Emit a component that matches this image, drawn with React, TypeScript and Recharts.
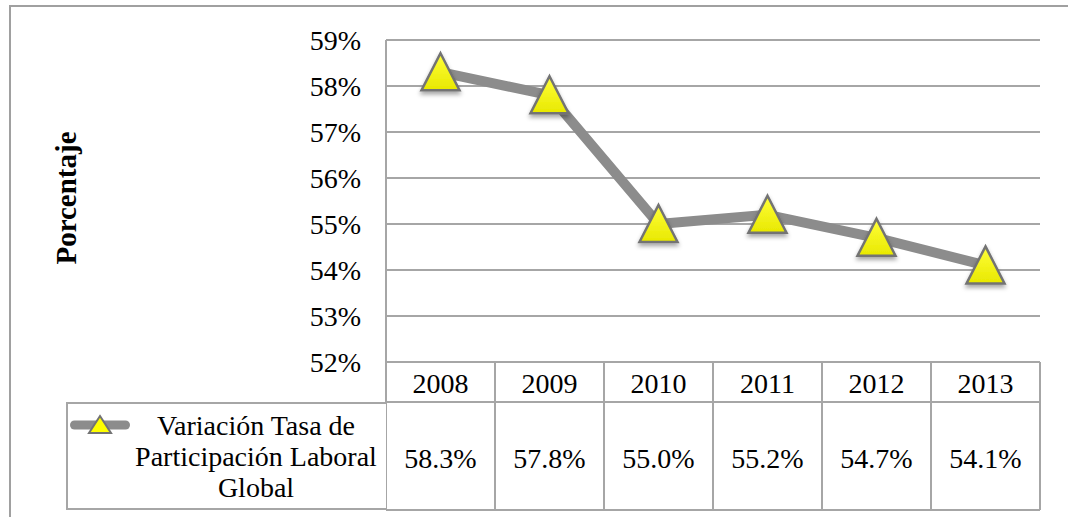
import React from "react";
import { LineChart, Line, XAxis, YAxis, CartesianGrid, Legend } from "recharts";

const years = ["2008", "2009", "2010", "2011", "2012", "2013"];
const rates = [58.3, 57.8, 55.0, 55.2, 54.7, 54.1];
const yTicks = [52, 53, 54, 55, 56, 57, 58, 59];
const seriesName = "Variación Tasa de Participación Laboral Global";
const yTitle = "Porcentaje";

const data = years.map((year, i) => ({ year, rate: rates[i] }));

const FONT = '"Liberation Serif", "Times New Roman", serif';
const GRID = "#a6a6a6";
const LINE = "#8c8c8c";
const W = 1068;
const H = 517;
const PLOT_LEFT = 386;
const PLOT_RIGHT = 1040;
const PLOT_TOP = 40;
const PLOT_BOTTOM = 362;
const Y_W = 60;
const COL = (PLOT_RIGHT - PLOT_LEFT) / years.length;
const HEADER_H = 40;
const TABLE_H = 148;

function TriangleDot(props: any) {
  const { cx, cy, index } = props;
  if (cx == null || cy == null) return null;
  const gid = `triFill${index}`;
  const fid = `triShadow${index}`;
  return (
    <g>
      <defs>
        <linearGradient id={gid} x1="0" y1="0" x2="0" y2="1">
          <stop offset="0%" stopColor="#ffff3a" />
          <stop offset="100%" stopColor="#e8e800" />
        </linearGradient>
        <filter id={fid} x="-50%" y="-50%" width="200%" height="200%">
          <feDropShadow dx="0" dy="3" stdDeviation="2" floodColor="#000" floodOpacity="0.35" />
        </filter>
      </defs>
      <path
        d={`M${cx},${cy - 19} L${cx + 19},${cy + 18} L${cx - 19},${cy + 18} Z`}
        fill={`url(#${gid})`}
        stroke="#737373"
        strokeWidth={2.5}
        filter={`url(#${fid})`}
      />
    </g>
  );
}

function TableCell(props: any) {
  const { x, y, payload, index } = props;
  const half = COL / 2;
  const v = rates[index];
  return (
    <g>
      {index === 0 && (
        <line x1={x - half} x2={x - half} y1={y} y2={y + TABLE_H} stroke={GRID} strokeWidth={2} />
      )}
      <line x1={x + half} x2={x + half} y1={y} y2={y + TABLE_H} stroke={GRID} strokeWidth={2} />
      <line x1={x - half} x2={x + half} y1={y + HEADER_H} y2={y + HEADER_H} stroke={GRID} strokeWidth={2} />
      <line x1={x - half} x2={x + half} y1={y + TABLE_H} y2={y + TABLE_H} stroke={GRID} strokeWidth={2} />
      <text x={x} y={y + 21} textAnchor="middle" dominantBaseline="central" fontFamily={FONT} fontSize={28} fill="#000">
        {payload.value}
      </text>
      <text x={x} y={y + 96} textAnchor="middle" dominantBaseline="central" fontFamily={FONT} fontSize={28} fill="#000">
        {v.toFixed(1)}%
      </text>
    </g>
  );
}

function LegendBox() {
  return (
    <div
      style={{
        position: "relative",
        width: 320,
        height: 108,
        boxSizing: "border-box",
        borderTop: `2px solid ${GRID}`,
        borderLeft: `2px solid ${GRID}`,
        borderBottom: `2px solid ${GRID}`,
        background: "#fff",
      }}
    >
      <svg width={70} height={30} style={{ position: "absolute", left: 0, top: 7 }}>
        <line x1={6.5} x2={57.5} y1={14} y2={14} stroke={LINE} strokeWidth={9} strokeLinecap="round" />
        <path d="M32,5 L43,22 L21,22 Z" fill="#ffff00" stroke="#737373" strokeWidth={2} />
      </svg>
      <div
        style={{
          position: "absolute",
          left: 62,
          top: 6,
          width: 252,
          textAlign: "center",
          fontFamily: FONT,
          fontSize: 28,
          lineHeight: "31px",
          color: "#000",
        }}
      >
        {seriesName}
      </div>
    </div>
  );
}

function YTitle(props: any) {
  const vb = props.viewBox || {};
  const cy = (vb.y ?? PLOT_TOP) + (vb.height ?? PLOT_BOTTOM - PLOT_TOP) / 2 - 3;
  const cx = 66;
  return (
    <text
      x={cx}
      y={cy}
      transform={`rotate(-90 ${cx} ${cy})`}
      textAnchor="middle"
      dominantBaseline="central"
      fontFamily={FONT}
      fontWeight="bold"
      fontSize={29}
      fill="#000"
    >
      {yTitle}
    </text>
  );
}

export default function App() {
  return (
    <div
      style={{
        position: "absolute",
        left: 0,
        top: 0,
        width: W,
        height: H,
        overflow: "hidden",
        background: "#fff",
      }}
    >
      <div
        style={{
          position: "absolute",
          left: 9,
          top: 5,
          width: W,
          height: H,
          border: "2px solid #a0a0a0",
        }}
      />
      <div style={{ position: "absolute", left: 0, top: 0 }}>
        <LineChart
          width={W}
          height={H}
          data={data}
          margin={{
            top: PLOT_TOP,
            right: W - PLOT_RIGHT,
            bottom: H - PLOT_BOTTOM - TABLE_H,
            left: PLOT_LEFT - Y_W,
          }}
        >
          <CartesianGrid vertical={false} stroke={GRID} strokeWidth={2} />
          <XAxis
            dataKey="year"
            height={TABLE_H}
            padding={{ left: COL / 2, right: COL / 2 }}
            axisLine={{ stroke: GRID, strokeWidth: 2 }}
            tickLine={false}
            tickSize={0}
            tickMargin={0}
            interval={0}
            tick={(p: any) => <TableCell {...p} />}
          />
          <YAxis
            width={Y_W}
            domain={[52, 59]}
            ticks={yTicks}
            tickFormatter={(v: number) => `${v}%`}
            axisLine={{ stroke: GRID, strokeWidth: 2 }}
            tickLine={false}
            tickSize={0}
            tickMargin={25}
            tick={{ fontFamily: FONT, fontSize: 28, fill: "#000" }}
            label={(p: any) => <YTitle {...p} />}
          />
          <Legend
            layout="horizontal"
            verticalAlign="middle"
            align="center"
            content={() => <LegendBox />}
            wrapperStyle={{ left: 66, top: 402, width: 320, height: 108, margin: 0, padding: 0 }}
          />
          <Line
            type="linear"
            dataKey="rate"
            name={seriesName}
            stroke={LINE}
            strokeWidth={10}
            strokeLinejoin="round"
            dot={(p: any) => <TriangleDot key={p.index} {...p} />}
            activeDot={false}
            isAnimationActive={false}
          />
        </LineChart>
      </div>
    </div>
  );
}
